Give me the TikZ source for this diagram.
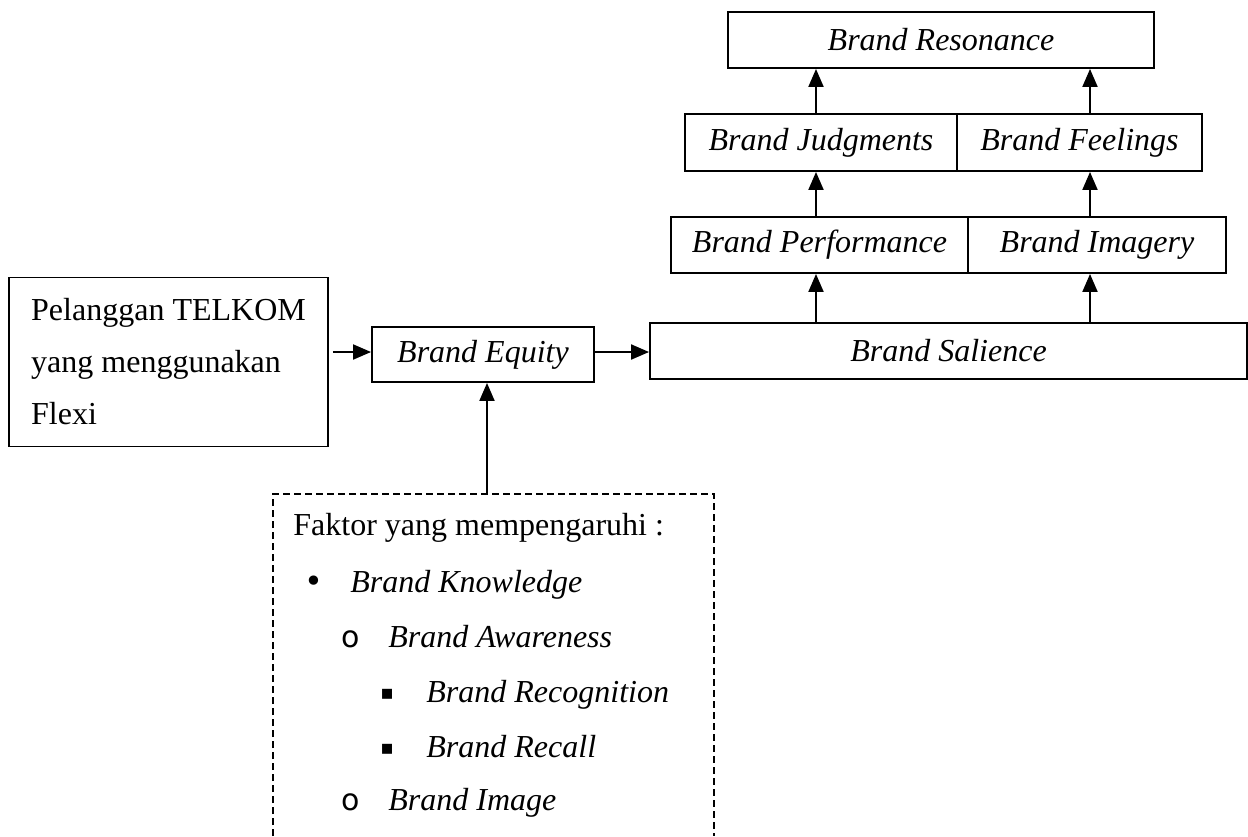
\documentclass[tikz,border=0pt]{standalone}
\usepackage{fontspec}
\setmainfont{Liberation Serif}
\newfontfamily\symfont{DejaVu Sans}
\usetikzlibrary{arrows.meta}

\begin{document}
\begin{tikzpicture}[x=0.5pt,y=0.5pt,yscale=-1,xscale=1,
        box/.style={draw,line width=0.95pt,inner sep=0pt,minimum height=28pt,font=\fontsize{16}{19}\selectfont\itshape},
        arr/.style={line width=1pt,-{Triangle[length=9pt,width=7.5pt]}},
        item/.style={anchor=base west,inner sep=0pt,font=\fontsize{16}{19}\selectfont}]
        \useasboundingbox (0,0) rectangle (1248,836);

        % left part
        \node[box,minimum width=159.5pt,minimum height=84.5pt,align=left,font=\fontsize{16}{26}\selectfont] (pel) at (168.5,362) {Pelanggan TELKOM\\yang menggunakan\\Flexi};
        \node[box,minimum width=111pt,minimum height=27.5pt] (eq) at (483,354.5) {Brand Equity};

        % pyramid
        \node[box,minimum width=298.5pt] (sal) at (948.5,351) {Brand Salience};
        \node[box,minimum width=148.5pt] (perf) at (819.5,245) {Brand Performance};
        \node[box,minimum width=129pt] (img) at (1097,245) {Brand Imagery};
        \node[box,minimum width=136pt,minimum height=28.5pt] (judg) at (821,142.5) {Brand Judgments};
        \node[box,minimum width=122.5pt,minimum height=28.5pt] (feel) at (1079.5,142.5) {Brand Feelings};
        \node[box,minimum width=213pt] (res) at (941,40) {Brand Resonance};

        \coordinate (row) at (0,352);
        \coordinate (colL) at (816,0);
        \coordinate (colR) at (1090,0);
        \draw[arr] (pel.east |- row) ++(4,0) -- (eq.west |- row);
        \draw[arr] (eq.east |- row) -- (sal.west |- row);
        \draw[arr] (sal.north -| colL) -- (perf.south -| colL);
        \draw[arr] (sal.north -| colR) -- (img.south -| colR);
        \draw[arr] (perf.north -| colL) -- (judg.south -| colL);
        \draw[arr] (img.north -| colR) -- (feel.south -| colR);
        \draw[arr] (judg.north -| colL) -- (res.south -| colL);
        \draw[arr] (feel.north -| colR) -- (res.south -| colR);

        % factors (box open at the bottom)
        \draw[line width=0.75pt,dash pattern=on 3.3pt off 2.2pt] (273,836) -- (273,494) -- (714,494) -- (714,836);
        \coordinate (fak) at (487,494);
        \draw[arr] (fak) -- (eq.south -| fak);

        \node[item] (ft) at (293,535) {Faktor yang mempengaruhi :};
        \node[item] (b1) at (304,592) {\symfont •};
        \node[item] (k1) at (350,592) {\itshape Brand Knowledge};
        \node[item,font=\fontsize{15}{17}\selectfont] (b2) at (341,647) {\symfont o};
        \node[item] (k2) at (388,647) {\itshape Brand Awareness};
        \node[item,font=\fontsize{10}{12}\selectfont] (b3) at (380,699) {\symfont ▪};
        \node[item] (k3) at (426,702) {\itshape Brand Recognition};
        \node[item,font=\fontsize{10}{12}\selectfont] (b4) at (380,754) {\symfont ▪};
        \node[item] (k4) at (426,757) {\itshape Brand Recall};
        \node[item,font=\fontsize{15}{17}\selectfont] (b5) at (341,810) {\symfont o};
        \node[item] (k5) at (388,810) {\itshape Brand Image};
\end{tikzpicture}
\end{document}
